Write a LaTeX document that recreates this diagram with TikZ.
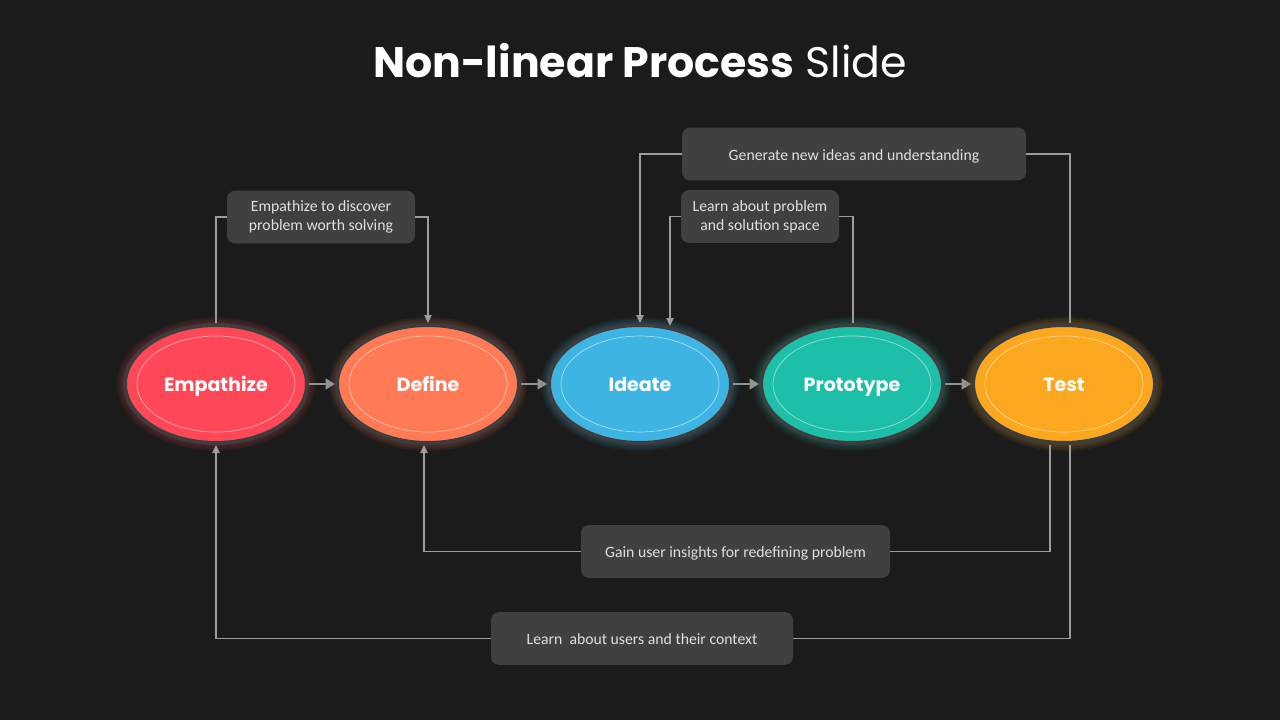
\documentclass[tikz,border=0pt]{standalone}
\usepackage{fontspec}
\setmainfont{Poppins}
\newfontfamily\notefont{Carlito}
\usetikzlibrary{arrows.meta,calc,shapes.geometric}
\definecolor{bgc}{HTML}{1B1B1B}
\definecolor{ringc}{HTML}{3D3D3D}
\definecolor{boxc}{HTML}{404040}
\definecolor{linec}{HTML}{9C9C9C}
\definecolor{empc}{HTML}{FE4857}
\definecolor{defc}{HTML}{FF7A55}
\definecolor{idec}{HTML}{3EB4E2}
\definecolor{proc}{HTML}{1EBFA8}
\definecolor{tesc}{HTML}{FBA71F}
\tikzset{
  stage/.style={ellipse, draw=ringc, line width=3pt, minimum width=136.5pt,
    minimum height=88.5pt, inner sep=0pt, text=white,
    text height=12pt, text depth=0.7pt,
    font=\fontsize{14.3}{17}\selectfont\bfseries},
  glow/.style={opacity=0.07},
  inner ring/.style={draw=white, draw opacity=0.55, line width=0.5pt},
  note/.style={rectangle, rounded corners=6pt, fill=boxc, text=white!88!black,
    align=center, inner sep=0pt, minimum height=39.5pt,
    font=\notefont\fontsize{11.8}{14.25}\selectfont},
  one line/.style={text height=10.4pt, text depth=1pt},
  link/.style={draw=linec, line width=0.9pt},
  arr/.style={link, -{Triangle[length=6pt,width=5.5pt]}},
  flow/.style={draw=linec!110, line width=2.2pt, -{Triangle[length=7pt,width=8pt]}}
}
\begin{document}
\begin{tikzpicture}[x=0.75pt,y=-0.75pt]
\fill[bgc] (0,0) rectangle (1280,720);
\useasboundingbox (0,0) rectangle (1280,720);

\node[text=white, font=\fontsize{32}{38}\selectfont] (title) at (640,61)
  {\textbf{Non-linear Process} Slide};

% stages
\foreach \n/\x/\c/\t in {emp/216/empc/Empathize, def/428/defc/Define,
    ide/640/idec/Ideate, pro/852/proc/Prototype, tes/1064/tesc/Test}{
  \fill[\c, glow] (\x,384) ellipse (99 and 67);
  \fill[\c, glow] (\x,384) ellipse (97 and 65);
  \fill[\c, glow] (\x,384) ellipse (95 and 63);
  \node[stage, fill=\c] (\n) at (\x,384) {\t};
  \draw[inner ring] (\n.center) ellipse (79 and 48);
}

\draw[flow] (emp.east) -- (def.west);
\draw[flow] (def.east) -- (ide.west);
\draw[flow] (ide.east) -- (pro.west);
\draw[flow] (pro.east) -- (tes.west);

% notes
\node[note, minimum width=141pt] (b1) at (321,217)
  {Empathize to discover\\problem worth solving};
\node[note, one line, minimum width=258pt] (b2) at (854,154)
  {Generate new ideas and understanding};
\node[note, minimum width=118.5pt] (b3) at (760,216.5)
  {Learn about problem\\and solution space};
\node[note, one line, minimum width=231.75pt] (b4) at (735.5,551.5)
  {Gain user insights for redefining problem};
\node[note, one line, minimum width=226.5pt] (b5) at (642,638.5)
  {Learn\ \ about users and their context};

% loops
\draw[link] (emp.north) |- (b1.west);
\draw[arr] (b1.east) -| (def.north);
\draw[link] ($(tes.north)+(6,0)$) |- (b2.east);
\draw[arr] (b2.west) -| (ide.north);
\draw[link] ($(pro.north)+(1,0)$) |- (b3.east);
\draw[arr] (b3.west) -| ($(ide.north)+(30,3)$);
\draw[link] ($(tes.south)+(-14,0)$) |- (b4.east);
\draw[arr] (b4.west) -| ($(def.south)+(-4,0)$);
\draw[link] ($(tes.south)+(6,0)$) |- (b5.east);
\draw[arr] (b5.west) -| (emp.south);

\end{tikzpicture}
\end{document}
